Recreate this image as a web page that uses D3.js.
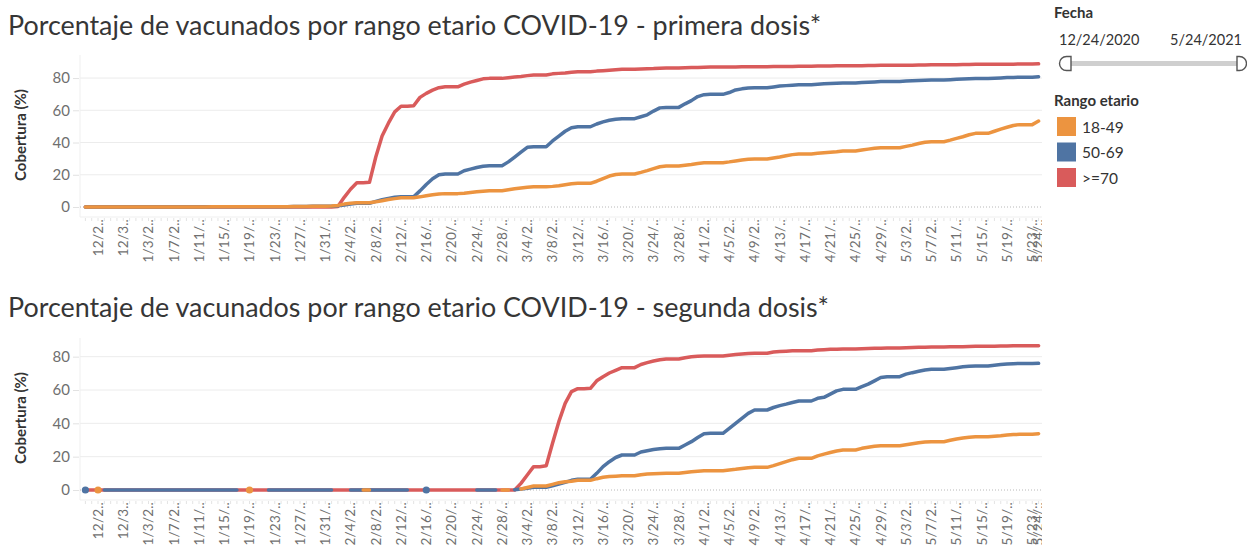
<!DOCTYPE html>
<html>
<head>
<meta charset="utf-8">
<script src="https://cdn.jsdelivr.net/npm/d3@7"></script>
<style>
  body { margin: 0; background: #fff; }
  svg { display: block; font-family: Lato, "Open Sans", sans-serif; }
  .grid line { stroke: #ececec; stroke-width: 1; }
  .zero { stroke: #b8b8b8; stroke-dasharray: 1 2; }
  .frame { stroke: #efefef; }
  .tick-y text, .tick-x text { fill: #6f6f6f; }
  .tick-x text { font-size: 13.5px; letter-spacing: 0.2px; }
  .series { fill: none; stroke-width: 3.5; stroke-linejoin: round; stroke-linecap: round; }
</style>
</head>
<body>
<svg id="chart" width="1247" height="550"></svg>
<script>
// ---- data ----
const START = new Date(2020, 11, 24),
      END = new Date(2021, 4, 24);

const GROUPS = ["18-49", "50-69", ">=70"];
const Y_TICKS = [0, 20, 40, 60, 80];

const X_TICK_LABELS = [
    "12/26/2020", "12/30/2020", "1/3/2021", "1/7/2021", "1/11/2021", "1/15/2021",
    "1/19/2021", "1/23/2021", "1/27/2021", "1/31/2021", "2/4/2021", "2/8/2021",
    "2/12/2021", "2/16/2021", "2/20/2021", "2/24/2021", "2/28/2021", "3/4/2021",
    "3/8/2021", "3/12/2021", "3/16/2021", "3/20/2021", "3/24/2021", "3/28/2021",
    "4/1/2021", "4/5/2021", "4/9/2021", "4/13/2021", "4/17/2021", "4/21/2021",
    "4/25/2021", "4/29/2021", "5/3/2021", "5/7/2021", "5/11/2021", "5/15/2021",
    "5/19/2021", "5/23/2021", "5/24/2021"
];

// one value per day from 12/24/2020, rows = weeks (Thu..Wed)
const primera_18_49 = [
    0, 0, 0, 0, 0, 0, 0,
    0, 0, 0, 0, 0, 0, 0,
    0, 0, 0, 0, 0, 0, 0.1,
    0.1, 0.1, 0.1, 0.1, 0.1, 0.2, 0.2,
    0.2, 0.2, 0.2, 0.2, 0.2, 0.3, 0.3,
    0.3, 0.4, 0.4, 0.4, 0.6, 1, 1.8,
    2.3, 2.6, 2.6, 2.6, 3.2, 3.9, 4.6,
    5.2, 5.7, 5.7, 5.7, 6.3, 7, 7.6,
    8, 8.3, 8.3, 8.3, 8.6, 9, 9.4,
    9.8, 10.1, 10.1, 10.1, 10.7, 11.3, 11.8,
    12.2, 12.5, 12.5, 12.5, 12.8, 13.2, 13.8,
    14.4, 14.7, 14.7, 14.7, 16, 17.6, 19.2,
    20.2, 20.5, 20.5, 20.5, 21.5, 22.6, 23.8,
    25, 25.4, 25.4, 25.4, 25.9, 26.4, 27,
    27.4, 27.5, 27.5, 27.5, 28, 28.6, 29.2,
    29.6, 29.8, 29.8, 29.8, 30.4, 31, 31.8,
    32.5, 32.9, 32.9, 32.9, 33.3, 33.7, 34,
    34.3, 34.7, 34.7, 34.7, 35.3, 35.9, 36.4,
    36.7, 36.8, 36.8, 36.8, 37.6, 38.4, 39.4,
    40.2, 40.5, 40.5, 40.5, 41.5, 42.6, 43.6,
    44.8, 45.7, 45.7, 45.7, 47, 48.3, 49.5,
    50.6, 51.1, 51.1, 51.1, 53.3
];
const primera_50_69 = [
    0, 0, 0, 0, 0, 0, 0,
    0, 0, 0, 0, 0, 0, 0,
    0, 0, 0, 0, 0, 0, 0.1,
    0.1, 0.1, 0.1, 0.1, 0.1, 0.2, 0.2,
    0.2, 0.2, 0.2, 0.2, 0.2, 0.3, 0.3,
    0.3, 0.4, 0.4, 0.4, 0.5, 0.7, 1.2,
    1.8, 2.3, 2.3, 2.3, 3.5, 4.5, 5.3,
    6, 6.4, 6.4, 6.4, 10, 14, 17.5,
    20, 20.5, 20.5, 20.5, 22.5, 23.5, 24.5,
    25.3, 25.6, 25.6, 25.6, 28, 31, 34,
    37, 37.4, 37.4, 37.4, 41, 44, 47,
    49.2, 49.8, 49.8, 49.8, 51.5, 52.8, 53.8,
    54.5, 54.8, 54.8, 54.8, 56, 57.2, 59.5,
    61.5, 61.8, 61.8, 61.8, 64, 66, 68.5,
    69.7, 69.9, 69.9, 69.9, 71, 72.6, 73.3,
    73.8, 74, 74, 74, 74.5, 75, 75.3,
    75.6, 75.8, 75.8, 75.8, 76.1, 76.4, 76.6,
    76.8, 77, 77, 77, 77.2, 77.4, 77.6,
    77.8, 77.9, 77.9, 77.9, 78.1, 78.3, 78.5,
    78.7, 78.8, 78.8, 78.8, 79, 79.2, 79.4,
    79.6, 79.7, 79.7, 79.7, 79.9, 80.1, 80.3,
    80.4, 80.5, 80.5, 80.5, 80.8
];
const primera_70 = [
    0, 0, 0, 0, 0, 0, 0,
    0, 0, 0, 0, 0, 0, 0,
    0, 0, 0, 0, 0, 0, 0,
    0, 0, 0, 0, 0, 0, 0,
    0, 0, 0, 0, 0, 0, 0,
    0, 0, 0, 0, 0, 0.3, 6,
    11, 15, 15, 15.3, 31, 44, 52,
    59, 62.5, 62.5, 62.8, 68, 70.5, 72.5,
    74, 74.6, 74.6, 74.6, 76.2, 77.5, 78.5,
    79.5, 79.8, 79.8, 79.8, 80.2, 80.6, 81,
    81.5, 81.9, 81.9, 81.9, 82.6, 82.9, 83.2,
    83.6, 83.9, 83.9, 83.9, 84.3, 84.6, 84.9,
    85.2, 85.4, 85.4, 85.4, 85.6, 85.8, 85.9,
    86.1, 86.2, 86.2, 86.2, 86.4, 86.5, 86.6,
    86.7, 86.8, 86.8, 86.8, 86.9, 86.9, 87,
    87, 87, 87, 87, 87.1, 87.1, 87.2,
    87.2, 87.3, 87.3, 87.3, 87.4, 87.5, 87.5,
    87.6, 87.6, 87.6, 87.6, 87.7, 87.8, 87.8,
    87.9, 87.9, 87.9, 87.9, 88, 88, 88.1,
    88.1, 88.2, 88.2, 88.2, 88.3, 88.3, 88.4,
    88.4, 88.5, 88.5, 88.5, 88.5, 88.6, 88.6,
    88.6, 88.7, 88.7, 88.7, 88.8
];

// second dose: null = no record for that day (Tableau breaks the line)
const segunda_18_49 = [
    null, null, 0, null, null, null, null,
    null, null, null, null, null, null, null,
    null, null, null, null, null, null, null,
    null, null, null, null, null, 0, null,
    null, null, null, null, null, null, null,
    null, null, null, null, null, null, null,
    null, null, 0, 0, null, null, null,
    null, null, null, null, null, null, null,
    null, null, null, null, null, null, null,
    null, null, null, 0, 0, null, 0.6,
    1.5, 2.4, 2.4, 2.4, 3.4, 4.4, 5,
    5.3, 5.8, 5.8, 5.8, 6.8, 7.6, 8.1,
    8.3, 8.5, 8.5, 8.5, 9.2, 9.6, 9.8,
    9.9, 10, 10, 10, 10.5, 11, 11.3,
    11.5, 11.6, 11.6, 11.6, 12, 12.4, 12.9,
    13.4, 13.6, 13.6, 13.6, 14.6, 15.8, 17,
    18.2, 19, 19, 19, 20.5, 21.5, 22.5,
    23.4, 24, 24, 24, 25, 25.6, 26.2,
    26.5, 26.6, 26.6, 26.6, 27.2, 27.8, 28.4,
    28.8, 29, 29, 29, 29.8, 30.6, 31.2,
    31.7, 32, 32, 32, 32.3, 32.6, 33,
    33.3, 33.4, 33.4, 33.4, 33.8
];
const segunda_50_69 = [
    0, null, null, 0, 0, 0, 0,
    0, 0, 0, 0, 0, 0, 0,
    0, 0, 0, 0, 0, 0, 0,
    0, 0, 0, 0, null, null, null,
    null, 0, 0, 0, 0, 0, 0,
    0, 0, 0, 0, 0, null, null,
    0, 0, 0, 0, 0, 0, 0,
    0, 0, 0, null, null, 0, null,
    null, null, null, null, null, null, 0,
    0, 0, 0, null, null, 0.2, 0.6,
    1.1, 1.6, 1.6, 1.6, 2.5, 3.5, 4.6,
    5.8, 6.4, 6.4, 6.4, 10, 14, 17,
    19.5, 21, 21, 21, 22.8, 23.6, 24.3,
    24.8, 25, 25, 25, 27, 29, 31.5,
    33.8, 34, 34, 34, 37, 40, 43,
    46, 48, 48, 48, 49.5, 50.6, 51.5,
    52.5, 53.4, 53.4, 53.4, 55, 55.6, 57.5,
    59.5, 60.4, 60.4, 60.4, 62, 63.5, 65.5,
    67.5, 68, 68, 68, 69.5, 70.4, 71.2,
    72, 72.4, 72.4, 72.4, 72.9, 73.4, 73.9,
    74.2, 74.4, 74.4, 74.4, 74.9, 75.3, 75.6,
    75.8, 75.9, 75.9, 75.9, 76
];
const segunda_70 = [
    0, 0, 0, 0, 0, 0, 0,
    0, 0, 0, 0, 0, 0, 0,
    0, 0, 0, 0, 0, 0, 0,
    0, 0, 0, 0, 0, 0, 0,
    0, 0, 0, 0, 0, 0, 0,
    0, 0, 0, 0, 0, 0, 0,
    0, 0, 0, 0, 0, 0, 0,
    0, 0, 0, 0, 0, 0, 0,
    0, 0, 0, 0, 0, 0, 0,
    0, 0, 0, 0, 0, 0, 4,
    9, 14, 14, 14.5, 28, 41, 52,
    59, 60.8, 60.8, 61, 65.5, 68, 70.2,
    71.8, 73.4, 73.4, 73.4, 75.3, 76.4, 77.4,
    78.2, 78.6, 78.6, 78.6, 79.4, 80, 80.3,
    80.4, 80.4, 80.4, 80.4, 80.9, 81.3, 81.6,
    81.9, 82.1, 82.1, 82.1, 82.8, 83.1, 83.3,
    83.5, 83.6, 83.6, 83.6, 84, 84.2, 84.4,
    84.5, 84.6, 84.6, 84.6, 84.8, 84.9, 85,
    85.1, 85.2, 85.2, 85.2, 85.4, 85.5, 85.6,
    85.7, 85.8, 85.8, 85.8, 85.9, 86, 86,
    86.1, 86.2, 86.2, 86.2, 86.3, 86.4, 86.4,
    86.5, 86.5, 86.5, 86.5, 86.6
];

// ---- style / layout ----
const COLORS = {"18-49": "#ec9440", "50-69": "#4f74a3", ">=70": "#d95b5b"};
const PLOT = {left: 80, right: 1042, padL: 5.4, padR: 3.4};
const FONT = 'Lato, "Open Sans", sans-serif';

const fechas = d3.timeDay.range(START, d3.timeDay.offset(END, 1));
const parseDate = d3.timeParse("%m/%d/%Y");

const panels = [
    {
        title: "Porcentaje de vacunados por rango etario COVID-19 - primera dosis*",
        titleY: 35, top: 55, bottom: 217, yDomain: [-6.2, 94.3],
        series: {"18-49": primera_18_49, "50-69": primera_50_69, ">=70": primera_70}
    },
    {
        title: "Porcentaje de vacunados por rango etario COVID-19 - segunda dosis*",
        titleY: 317, top: 338, bottom: 500, yDomain: [-6, 91.2],
        series: {"18-49": segunda_18_49, "50-69": segunda_50_69, ">=70": segunda_70}
    }
];

const svg = d3.select("#chart");
svg.append("rect").attr("width", 1247).attr("height", 550).attr("fill", "#fff");

svg.append("defs").append("clipPath")
    .attr("id", "xclip")
    .append("rect")
        .attr("x", 0).attr("y", 0)
        .attr("width", PLOT.right).attr("height", 550);

const xScale = d3.scaleTime()
    .domain([START, END])
    .range([PLOT.left + PLOT.padL, PLOT.right - PLOT.padR]);

// Tableau cuts the rotated labels at a fixed length: "1/11/.." fits, "12/26.." doesn't
function labelRoom(){
    let probe = svg.append("g").attr("class", "tick-x");
    let w = s => probe.append("text").text(s).node().getComputedTextLength();
    let room = (w("1/11/..") + w("12/26..")) / 2;
    probe.remove();
    return room;
}

function truncate(sel, maxW){
    sel.each(function(){
        let t = d3.select(this), s = t.text();
        if(this.getComputedTextLength() <= maxW) return;
        while(s.length > 1 && this.getComputedTextLength() > maxW){
            s = s.slice(0, -1);
            t.text(s + "..");
        }
    });
}

const LABEL_ROOM = labelRoom();
let titleSize = null;

function drawPanel(p){
    let g = svg.append("g");
    let yScale = d3.scaleLinear().domain(p.yDomain).range([p.bottom, p.top]);

    // title, sized so the first one spans like the original
    let title = g.append("text")
        .attr("x", 8).attr("y", p.titleY)
        .attr("fill", "#363636")
        .style("font-size", "25px")
        .text(p.title);
    if(titleSize === null){
        titleSize = 25 * 814 / title.node().getComputedTextLength();
    }
    title.style("font-size", titleSize + "px");

    // grid + frame
    g.append("g").attr("class", "grid")
        .selectAll("line")
        .data(Y_TICKS.filter(d => d > 0))
        .join("line")
            .attr("x1", PLOT.left).attr("x2", PLOT.right)
            .attr("y1", d => yScale(d)).attr("y2", d => yScale(d));

    g.append("line").attr("class", "frame")
        .attr("x1", PLOT.left).attr("x2", PLOT.left)
        .attr("y1", p.top).attr("y2", p.bottom);
    g.append("line").attr("class", "frame")
        .attr("x1", PLOT.left).attr("x2", PLOT.right)
        .attr("y1", p.bottom).attr("y2", p.bottom);

    g.append("line").attr("class", "zero")
        .attr("x1", PLOT.left).attr("x2", PLOT.right)
        .attr("y1", yScale(0)).attr("y2", yScale(0));

    // y axis
    let yAxis = d3.axisLeft(yScale).tickValues(Y_TICKS).tickSize(6).tickPadding(3);
    let ya = g.append("g")
        .attr("class", "tick-y")
        .attr("transform", `translate(${PLOT.left - 1},0)`)
        .call(yAxis);
    ya.select(".domain").remove();
    ya.selectAll(".tick line").attr("stroke", "#e2e2e2");
    ya.selectAll(".tick text")
        .style("font-family", FONT)
        .style("font-size", "15px");

    g.append("text")
        .attr("transform", `translate(26,${(p.top + p.bottom) / 2 - 1}) rotate(-90)`)
        .attr("text-anchor", "middle")
        .attr("fill", "#333")
        .style("font-size", "15px")
        .style("font-weight", "700")
        .text("Cobertura (%)");

    // little day marks under the pane
    g.append("g").selectAll("line")
        .data(fechas)
        .join("line")
            .attr("x1", d => xScale(d)).attr("x2", d => xScale(d))
            .attr("y1", p.bottom + 1).attr("y2", p.bottom + 4)
            .attr("stroke", "#e4e4e4");

    // x labels, rotated and truncated like Tableau does
    let xa = g.append("g")
        .attr("class", "tick-x")
        .attr("clip-path", "url(#xclip)");
    xa.selectAll("text")
        .data(X_TICK_LABELS)
        .join("text")
            .attr("transform", d => `translate(${xScale(parseDate(d))},${p.bottom + 2}) rotate(-90)`)
            .attr("text-anchor", "end")
            .attr("dy", "0.36em")
            .text(d => d)
            .call(truncate, LABEL_ROOM);

    // lines: red at the back, orange on top
    let line = d3.line()
        .defined(d => d.v !== null)
        .x(d => xScale(d.date))
        .y(d => yScale(d.v));

    GROUPS.slice().reverse().forEach(k => {
        let pts = fechas.map((date, i) => ({date, v: p.series[k][i]}));
        g.append("path")
            .attr("class", "series")
            .attr("stroke", COLORS[k])
            .attr("d", line(pts));

        // isolated days show up as dots
        let lonely = pts.filter((d, i) => d.v !== null &&
            (i === 0 || pts[i - 1].v === null) &&
            (i === pts.length - 1 || pts[i + 1].v === null));
        g.selectAll(null)
            .data(lonely)
            .join("circle")
                .attr("cx", d => xScale(d.date))
                .attr("cy", d => yScale(d.v))
                .attr("r", 3.6)
                .attr("fill", COLORS[k]);
    });
}

panels.forEach(drawPanel);

// ---- right side: date filter + colour legend ----
let side = svg.append("g").attr("fill", "#333");

side.append("text")
    .attr("x", 1054).attr("y", 18)
    .style("font-size", "15px").style("font-weight", "700")
    .text("Fecha");

let fmt = d3.timeFormat("%-m/%-d/%Y");
side.append("text")
    .attr("x", 1059).attr("y", 45)
    .style("font-size", "14.5px")
    .text(fmt(START));
side.append("text")
    .attr("x", 1242).attr("y", 45)
    .attr("text-anchor", "end")
    .style("font-size", "14.5px")
    .text(fmt(END));

side.append("line")
    .attr("x1", 1070).attr("x2", 1238)
    .attr("y1", 63.5).attr("y2", 63.5)
    .attr("stroke", "#cfcfcf").attr("stroke-width", 5);
side.append("path")
    .attr("d", "M1071,56.5 H1066.5 A7,7 0 0 0 1066.5,70.5 H1071 Z")
    .attr("fill", "#fff").attr("stroke", "#555").attr("stroke-width", 1.4);
side.append("path")
    .attr("d", "M1237,56.5 H1239.5 A7,7 0 0 1 1239.5,70.5 H1237 Z")
    .attr("fill", "#fff").attr("stroke", "#555").attr("stroke-width", 1.4);

side.append("text")
    .attr("x", 1054).attr("y", 106)
    .style("font-size", "15px").style("font-weight", "700")
    .text("Rango etario");

let items = side.selectAll("g.item")
    .data(GROUPS)
    .join("g")
        .attr("class", "item")
        .attr("transform", (d, i) => `translate(1057,${117 + i * 25.5})`);
items.append("rect")
    .attr("width", 19).attr("height", 19)
    .attr("fill", d => COLORS[d]);
items.append("text")
    .attr("x", 25).attr("y", 15.5)
    .style("font-size", "15.5px")
    .text(d => d);
</script>
</body>
</html>
